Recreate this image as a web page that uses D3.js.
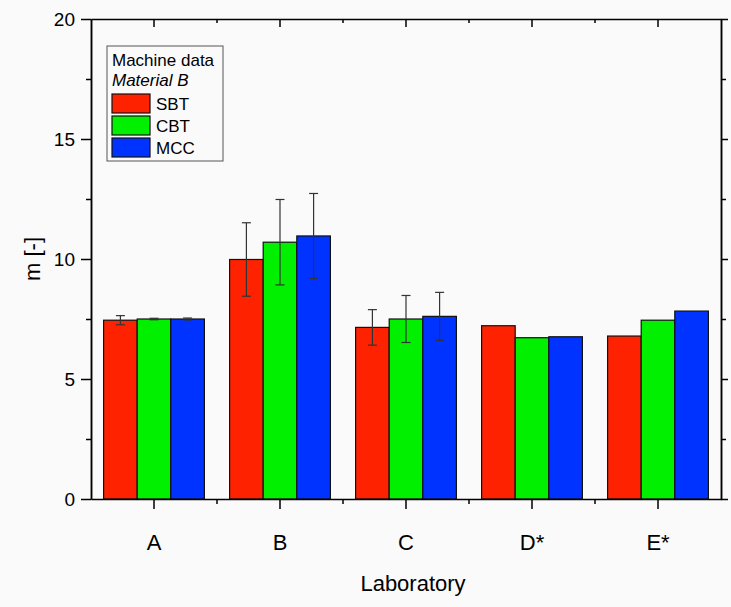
<!DOCTYPE html>
<html>
<head>
<meta charset="utf-8">
<script src="https://cdn.jsdelivr.net/npm/d3@7"></script>
<style>
  body { margin: 0; background: #fafafa; }
  svg { display: block; font-family: "Liberation Sans", Arial, sans-serif; }
</style>
</head>
<body>
<svg id="chart"></svg>
<script>
const labs = ["A", "B", "C", "D*", "E*"];
const methods = ["SBT", "CBT", "MCC"];
const sbt = [7.45, 9.98, 7.15, 7.22, 6.79];
const cbt = [7.5, 10.7, 7.5, 6.72, 7.45];
const mcc = [7.5, 10.96, 7.61, 6.76, 7.83];
const sbtErr = [0.19, 1.53, 0.74, 0, 0];
const cbtErr = [0.03, 1.78, 0.98, 0, 0];
const mccErr = [0.04, 1.77, 1.0, 0, 0];
const yTicks = [0, 5, 10, 15, 20];
const colors = ["#ff2200", "#00f000", "#0033ff"];

const W = 731, H = 607;
const margin = { top: 19, right: 10, bottom: 108, left: 91 };
const width = W - margin.left - margin.right;
const height = H - margin.top - margin.bottom;

const svg = d3.select("#chart").attr("width", W).attr("height", H);
svg.append("rect").attr("width", W).attr("height", H).attr("fill", "#fafafa");
const g = svg.append("g").attr("transform", `translate(${margin.left},${margin.top})`);

const x = d3.scaleBand().domain(labs).range([0, width]).paddingInner(0).paddingOuter(0);
const x1 = d3.scaleBand().domain(methods).range([x.bandwidth() * 0.1, x.bandwidth() * 0.9]);
const y = d3.scaleLinear().domain([0, 20]).range([height, 0]);

const series = [sbt, cbt, mcc];
const errs = [sbtErr, cbtErr, mccErr];
const rows = [];
labs.forEach((lab, i) => {
  methods.forEach((m, j) => {
    rows.push({ lab, m, j, v: series[j][i], e: errs[j][i] });
  });
});

g.selectAll(".bar")
  .data(rows)
  .enter()
  .append("rect")
  .attr("class", "bar")
  .attr("x", d => x(d.lab) + x1(d.m))
  .attr("y", d => y(d.v))
  .attr("width", x1.bandwidth())
  .attr("height", d => y(0) - y(d.v))
  .attr("fill", d => colors[d.j])
  .attr("stroke", "#111")
  .attr("stroke-width", 1.2);

// error bars
const eb = g.selectAll(".err")
  .data(rows.filter(d => d.e > 0))
  .enter()
  .append("g")
  .attr("class", "err")
  .attr("stroke", "#333")
  .attr("stroke-width", 1.2);
eb.append("line")
  .attr("x1", d => x(d.lab) + x1(d.m) + x1.bandwidth() / 2)
  .attr("x2", d => x(d.lab) + x1(d.m) + x1.bandwidth() / 2)
  .attr("y1", d => y(d.v - d.e))
  .attr("y2", d => y(d.v + d.e));
[1, -1].forEach(s => {
  eb.append("line")
    .attr("x1", d => x(d.lab) + x1(d.m) + x1.bandwidth() / 2 - 4.5)
    .attr("x2", d => x(d.lab) + x1(d.m) + x1.bandwidth() / 2 + 4.5)
    .attr("y1", d => y(d.v + s * d.e))
    .attr("y2", d => y(d.v + s * d.e));
});

// axes
const minorY = d3.range(2.5, 20, 5);
const bandEdges = labs.slice(1).map(l => x(l));

function styleAxis(sel) {
  sel.select(".domain").attr("stroke", "#000").attr("stroke-width", 1.5);
  sel.selectAll(".tick line").attr("stroke", "#000").attr("stroke-width", 1.5);
  sel.selectAll(".tick text").attr("fill", "#000");
}

const yAxis = g.append("g")
  .call(d3.axisLeft(y).tickValues(yTicks).tickSize(10).tickPadding(6).tickSizeOuter(0))
  .call(styleAxis);
yAxis.selectAll(".tick text").style("font-size", "19px");
g.append("g")
  .call(d3.axisLeft(y).tickValues(minorY).tickSize(5).tickFormat("").tickSizeOuter(0))
  .call(styleAxis);

g.append("g")
  .attr("transform", `translate(${width},0)`)
  .call(d3.axisLeft(y).tickValues(yTicks).tickSize(-7).tickFormat("").tickSizeOuter(0))
  .call(styleAxis);
g.append("g")
  .attr("transform", `translate(${width},0)`)
  .call(d3.axisLeft(y).tickValues(minorY).tickSize(-5).tickFormat("").tickSizeOuter(0))
  .call(styleAxis);

const xAxis = g.append("g")
  .attr("transform", `translate(0,${height})`)
  .call(d3.axisBottom(x).tickSize(10).tickPadding(25).tickSizeOuter(0))
  .call(styleAxis);
xAxis.selectAll(".tick text").style("font-size", "22px");
xAxis.selectAll(".minor")
  .data(bandEdges)
  .enter()
  .append("line")
  .attr("x1", d => d).attr("x2", d => d)
  .attr("y1", 0).attr("y2", 5)
  .attr("stroke", "#000").attr("stroke-width", 1.5);

const topAxis = g.append("g")
  .call(d3.axisBottom(x).tickSize(8).tickFormat("").tickSizeOuter(0))
  .call(styleAxis);
topAxis.selectAll(".minor")
  .data(bandEdges)
  .enter()
  .append("line")
  .attr("x1", d => d).attr("x2", d => d)
  .attr("y1", 0).attr("y2", 4)
  .attr("stroke", "#000").attr("stroke-width", 1.5);

// axis titles
svg.append("text")
  .attr("x", 413)
  .attr("y", 591)
  .attr("text-anchor", "middle")
  .style("font-size", "22px")
  .text("Laboratory");
svg.append("text")
  .attr("transform", `translate(40,${margin.top + height / 2}) rotate(-90)`)
  .attr("text-anchor", "middle")
  .style("font-size", "22px")
  .text("m [-]");

// legend
const legend = svg.append("g").attr("transform", "translate(107,46)");
legend.append("rect")
  .attr("width", 116).attr("height", 115)
  .attr("fill", "#fafafa").attr("stroke", "#555").attr("stroke-width", 1);
legend.append("text").attr("x", 5).attr("y", 20).style("font-size", "17px").text("Machine data");
legend.append("text").attr("x", 5).attr("y", 40).style("font-size", "17px")
  .style("font-style", "italic").text("Material B");
methods.forEach((m, j) => {
  legend.append("rect")
    .attr("x", 5).attr("y", 48 + j * 22)
    .attr("width", 38).attr("height", 19)
    .attr("fill", colors[j]).attr("stroke", "#111").attr("stroke-width", 1.2);
  legend.append("text")
    .attr("x", 49).attr("y", 64 + j * 22)
    .style("font-size", "17px")
    .text(m);
});
</script>
</body>
</html>
